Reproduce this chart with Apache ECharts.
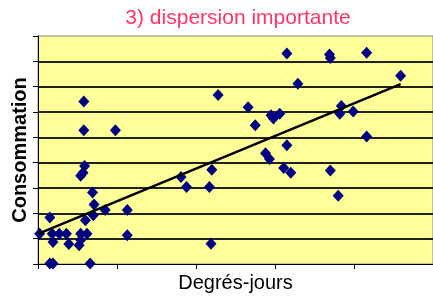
<!DOCTYPE html>
<html>
<head>
<meta charset="utf-8">
<script src="https://cdn.jsdelivr.net/npm/echarts@6/dist/echarts.min.js"></script>
<style>
  html, body { margin: 0; padding: 0; background: #fff; }
  #chart { width: 433px; height: 298px; }
</style>
</head>
<body>
<div id="chart"></div>
<script>
// degrés-jours / consommation
var degresJours = [
  0.58, 0.58, 0.98, 0.59, 0.57, 0.54, 0.69, 0.71, 0.70, 0.85, 1.13, 0.15, 0.60,
  0.02, 0.18, 0.27, 0.36, 0.54, 0.62, 1.13, 0.19, 0.39, 0.52, 0.54, 0.15, 0.19, 0.66,
  1.81, 1.88, 2.20, 2.17, 2.19, 2.28,
  2.66, 2.75, 2.95, 2.98, 3.06, 3.15, 3.29, 3.15, 2.88, 2.93, 3.11, 3.20,
  3.69, 3.70, 4.16, 4.59, 3.84, 3.82, 3.99, 4.16, 3.70, 3.80
]
var consommation = [
  6.41, 5.28, 5.28, 3.87, 3.60, 3.48, 2.82, 2.35, 1.92, 2.13, 2.13, 1.84, 1.73,
  1.19, 1.19, 1.19, 1.19, 1.19, 1.19, 1.13, 0.87, 0.79, 0.74, 0.95, 0.02, 0.02, 0.02,
  3.43, 3.04, 3.72, 3.04, 0.80, 6.67,
  6.19, 5.48, 5.87, 5.74, 5.93, 8.31, 7.12, 4.69, 4.37, 4.14, 3.79, 3.60,
  8.27, 8.13, 8.34, 7.43, 6.24, 5.93, 6.02, 5.03, 3.69, 2.69
]
// droite de tendance
var trendX = [0, 4.59]
var trendY = [1.19, 7.10]

var points = degresJours.map(function (x, i) { return [x, consommation[i]] })
var trend = trendX.map(function (x, i) { return [x, trendY[i]] })

var myChart = echarts.init(document.getElementById('chart'))
var option = {
  animation: false,
  title: {
    text: '3) dispersion importante',
    left: 238,
    top: 8,
    padding: 0,
    textAlign: 'center',
    textStyle: {
      color: '#ff3366',
      fontFamily: 'Liberation Sans',
      fontWeight: 'normal',
      fontSize: 21
    }
  },
  grid: {
    left: 38,
    top: 36,
    right: -8,
    bottom: 31,
    show: true,
    backgroundColor: '#ffff99',
    borderColor: '#888',
    borderWidth: 1
  },
  xAxis: {
    type: 'value',
    min: 0,
    max: 5,
    interval: 1,
    name: 'Degrés-jours',
    nameLocation: 'middle',
    nameGap: 9,
    nameTextStyle: {
      color: '#000',
      fontFamily: 'Liberation Sans',
      fontSize: 20
    },
    axisLine: { show: true, lineStyle: { color: '#000', width: 1 } },
    axisTick: { show: true, length: 5, lineStyle: { color: '#000' } },
    axisLabel: { show: false },
    splitLine: { show: false }
  },
  yAxis: {
    type: 'value',
    min: 0,
    max: 9,
    interval: 1,
    name: 'Consommation',
    nameLocation: 'middle',
    nameGap: 8,
    nameTextStyle: {
      color: '#000',
      fontFamily: 'Liberation Sans',
      fontWeight: 'bold',
      fontSize: 20
    },
    axisLine: { show: true, lineStyle: { color: '#000', width: 1 } },
    axisTick: { show: true, length: 5, lineStyle: { color: '#000' } },
    axisLabel: { show: false },
    splitLine: {
      show: true,
      showMinLine: false,
      showMaxLine: false,
      lineStyle: { color: '#222', width: 2 }
    }
  },
  series: [
    {
      type: 'scatter',
      data: points,
      symbol: 'diamond',
      symbolSize: [11, 12],
      itemStyle: { color: '#000080', opacity: 1 },
      z: 3
    },
    {
      type: 'line',
      data: trend,
      showSymbol: false,
      symbol: 'none',
      lineStyle: { color: '#000', width: 2.5 },
      z: 4
    }
  ]
}
myChart.setOption(option)
</script>
</body>
</html>
